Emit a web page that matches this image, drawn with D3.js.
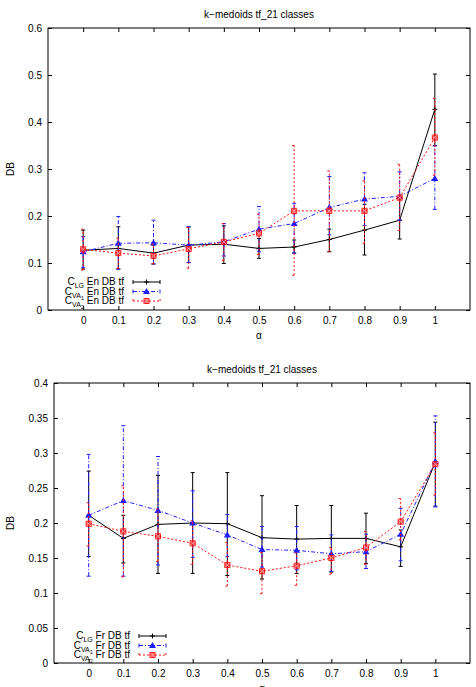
<!DOCTYPE html>
<html>
<head>
<meta charset="utf-8">
<script src="https://cdn.jsdelivr.net/npm/d3@7"></script>
<style>
  body { margin: 0; background: #fff; }
  svg { display: block; font-family: "Liberation Sans", Arial, sans-serif; }
  .tick line { stroke: #000; }
  .tick text { font-size: 10px; fill: #000; }
</style>
</head>
<body>
<script>
// alpha values on the x axis
var alphas = [0, 0.1, 0.2, 0.3, 0.4, 0.5, 0.6, 0.7, 0.8, 0.9, 1]
var enTicks = [0, 0.1, 0.2, 0.3, 0.4, 0.5, 0.6]
var frTicks = [0, 0.05, 0.1, 0.15, 0.2, 0.25, 0.3, 0.35, 0.4]

// top chart : En DB tf
var enLG   = [0.127, 0.131, 0.121, 0.138, 0.140, 0.131, 0.134, 0.150, 0.170, 0.191, 0.427]
var enLGLo = [0.087, 0.087, 0.098, 0.101, 0.099, 0.110, 0.121, 0.124, 0.117, 0.151, 0.350]
var enLGHi = [0.170, 0.177, 0.138, 0.177, 0.179, 0.152, 0.149, 0.172, 0.225, 0.236, 0.502]

var enVA1   = [0.124, 0.142, 0.143, 0.138, 0.145, 0.172, 0.184, 0.218, 0.236, 0.242, 0.280]
var enVA1Lo = [0.090, 0.087, 0.098, 0.101, 0.115, 0.124, 0.121, 0.160, 0.180, 0.191, 0.214]
var enVA1Hi = [0.156, 0.199, 0.191, 0.177, 0.184, 0.220, 0.227, 0.284, 0.292, 0.294, 0.349]

var enVA2   = [0.129, 0.121, 0.115, 0.130, 0.145, 0.163, 0.211, 0.211, 0.211, 0.239, 0.367]
var enVA2Lo = [0.085, 0.088, 0.098, 0.089, 0.105, 0.118, 0.074, 0.124, 0.142, 0.169, 0.287]
var enVA2Hi = [0.172, 0.153, 0.140, 0.176, 0.184, 0.204, 0.350, 0.296, 0.275, 0.310, 0.450]

// bottom chart : Fr DB tf
var frLG   = [0.211, 0.178, 0.198, 0.200, 0.199, 0.179, 0.177, 0.178, 0.178, 0.166, 0.287]
var frLGLo = [0.152, 0.143, 0.128, 0.128, 0.125, 0.120, 0.128, 0.130, 0.142, 0.138, 0.224]
var frLGHi = [0.274, 0.211, 0.268, 0.272, 0.272, 0.239, 0.225, 0.225, 0.214, 0.190, 0.344]

var frVA1   = [0.211, 0.232, 0.218, 0.200, 0.183, 0.162, 0.161, 0.156, 0.159, 0.184, 0.288]
var frVA1Lo = [0.124, 0.124, 0.140, 0.151, 0.152, 0.137, 0.133, 0.131, 0.135, 0.146, 0.223]
var frVA1Hi = [0.298, 0.339, 0.295, 0.246, 0.212, 0.195, 0.195, 0.183, 0.184, 0.221, 0.353]

var frVA2   = [0.199, 0.188, 0.181, 0.171, 0.140, 0.131, 0.139, 0.150, 0.165, 0.202, 0.284]
var frVA2Lo = [0.167, 0.123, 0.145, 0.141, 0.110, 0.099, 0.111, 0.127, 0.141, 0.176, 0.240]
var frVA2Hi = [0.229, 0.253, 0.220, 0.203, 0.172, 0.158, 0.157, 0.165, 0.188, 0.235, 0.329]

var svg = d3.select("body").append("svg")
  .attr("width", 476)
  .attr("height", 687)

var styles = [
  {color: "#000", dash: null, mark: "plus"},
  {color: "#1f1fff", dash: "4,2,1,2", mark: "tri"},
  {color: "#ff1010", dash: "2,2", mark: "box"}
]

function drawMarker(g, kind, cx, cy, color) {
  if (kind == "plus") {
    g.append("path").attr("d", `M${cx-2.5},${cy}H${cx+2.5}M${cx},${cy-2.5}V${cy+2.5}`)
      .attr("stroke", color).attr("fill", "none")
  } else if (kind == "tri") {
    g.append("path").attr("d", `M${cx},${cy-3.5}L${cx+3.5},${cy+2.5}L${cx-3.5},${cy+2.5}Z`)
      .attr("fill", color)
  } else {
    g.append("rect").attr("x", cx-2.5).attr("y", cy-2.5).attr("width", 5).attr("height", 5)
      .attr("fill", color).attr("fill-opacity", 0.6).attr("stroke", color)
    g.append("path").attr("d", `M${cx-2.5},${cy-2.5}L${cx+2.5},${cy+2.5}M${cx+2.5},${cy-2.5}L${cx-2.5},${cy+2.5}`)
      .attr("stroke", "#ffb0b0").attr("stroke-width", 0.8)
  }
}

function drawPanel(cfg) {
  var x = d3.scaleLinear().domain([-0.1, 1.1]).range([cfg.left, cfg.right])
  var y = d3.scaleLinear().domain([0, cfg.ymax]).range([cfg.bottom, cfg.top])
  var g = svg.append("g")

  g.append("text")
    .attr("x", (cfg.left + cfg.right) / 2)
    .attr("y", cfg.top - 10)
    .attr("text-anchor", "middle")
    .style("font-size", "10px")
    .text("k\u2212medoids tf_21 classes")

  var fmt = d => String(d)
  g.append("g").attr("transform", "translate(0," + cfg.bottom + ")")
    .call(d3.axisBottom(x).tickValues(alphas).tickSizeInner(-4).tickSizeOuter(0).tickPadding(7).tickFormat(fmt))
  g.append("g").attr("transform", "translate(0," + cfg.top + ")")
    .call(d3.axisTop(x).tickValues(alphas).tickSizeInner(-4).tickSizeOuter(0).tickFormat(""))
  g.append("g").attr("transform", "translate(" + cfg.left + ",0)")
    .call(d3.axisLeft(y).tickValues(cfg.ticks).tickSizeInner(-4).tickSizeOuter(0).tickPadding(6).tickFormat(fmt))
  g.append("g").attr("transform", "translate(" + cfg.right + ",0)")
    .call(d3.axisRight(y).tickValues(cfg.ticks).tickSizeInner(-4).tickSizeOuter(0).tickFormat(""))
  g.selectAll(".domain").remove()

  g.append("rect")
    .attr("x", cfg.left).attr("y", cfg.top)
    .attr("width", cfg.right - cfg.left).attr("height", cfg.bottom - cfg.top)
    .attr("fill", "none").attr("stroke", "#000")

  g.append("text")
    .attr("transform", "translate(14," + ((cfg.top + cfg.bottom) / 2) + ") rotate(-90)")
    .attr("text-anchor", "middle")
    .style("font-size", "10px")
    .text("DB")
  g.append("text")
    .attr("x", (cfg.left + cfg.right) / 2)
    .attr("y", cfg.bottom + 29)
    .attr("text-anchor", "middle")
    .style("font-size", "10px")
    .text("\u03b1")

  var line = d3.line().x((d, i) => x(alphas[i])).y(d => y(d))

  cfg.series.forEach((s, k) => {
    var st = styles[k]
    var sg = g.append("g")
    sg.append("path").datum(s.mean)
      .attr("d", line)
      .attr("fill", "none")
      .attr("stroke", st.color)
      .attr("stroke-dasharray", st.dash)
    alphas.forEach((a, i) => {
      var px = x(a), y0 = y(s.lo[i]), y1 = y(s.hi[i])
      sg.append("path")
        .attr("d", `M${px},${y0}V${y1}M${px-2},${y0}H${px+2}M${px-2},${y1}H${px+2}`)
        .attr("fill", "none")
        .attr("stroke", st.color)
        .attr("stroke-dasharray", st.dash)
      drawMarker(sg, st.mark, px, y(s.mean[i]), st.color)
    })

    // legend entry
    var ly = cfg.legendY + k * 9.5
    var t = g.append("text")
      .attr("x", cfg.legendX)
      .attr("y", ly + 3)
      .attr("text-anchor", "end")
      .style("font-size", "10px")
    t.append("tspan").text("C")
    if (k == 0) {
      t.append("tspan").attr("dy", 3).style("font-size", "7px").text("LG")
      t.append("tspan").attr("dy", -3).text(" " + cfg.lang + " DB tf")
    } else {
      t.append("tspan").attr("dy", 3).style("font-size", "7px").text("VA")
      t.append("tspan").attr("dy", 2).style("font-size", "5.5px").text(k)
      t.append("tspan").attr("dy", -5).text(" " + cfg.lang + " DB tf")
    }
    var lx0 = cfg.legendX + 9, lx1 = cfg.legendX + 36
    g.append("path")
      .attr("d", `M${lx0},${ly}H${lx1}M${lx0},${ly-2}V${ly+2}M${lx1},${ly-2}V${ly+2}`)
      .attr("fill", "none")
      .attr("stroke", st.color)
      .attr("stroke-dasharray", st.dash)
    drawMarker(g, st.mark, (lx0 + lx1) / 2, ly, st.color)
  })
}

drawPanel({
  left: 48, right: 470, top: 28, bottom: 310, ymax: 0.6, ticks: enTicks,
  lang: "En", legendX: 124, legendY: 282,
  series: [
    {mean: enLG, lo: enLGLo, hi: enLGHi},
    {mean: enVA1, lo: enVA1Lo, hi: enVA1Hi},
    {mean: enVA2, lo: enVA2Lo, hi: enVA2Hi}
  ]
})

drawPanel({
  left: 54, right: 470, top: 383, bottom: 663, ymax: 0.4, ticks: frTicks,
  lang: "Fr", legendX: 130, legendY: 636,
  series: [
    {mean: frLG, lo: frLGLo, hi: frLGHi},
    {mean: frVA1, lo: frVA1Lo, hi: frVA1Hi},
    {mean: frVA2, lo: frVA2Lo, hi: frVA2Hi}
  ]
})
</script>
</body>
</html>
